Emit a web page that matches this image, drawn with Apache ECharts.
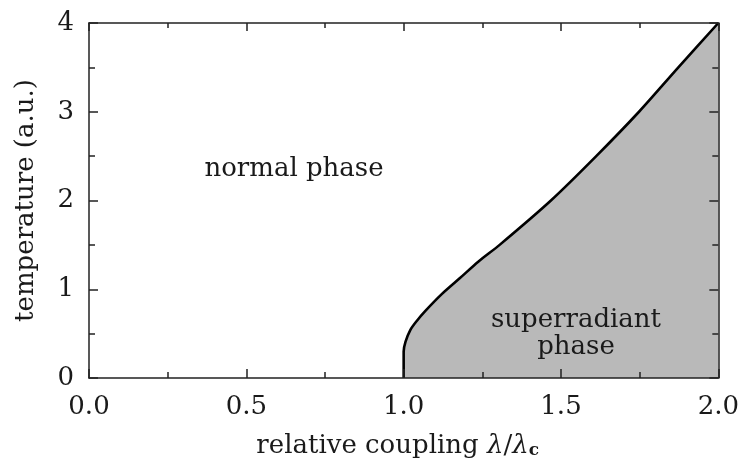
<!DOCTYPE html>
<html>
<head>
<meta charset="utf-8">
<script src="https://cdn.jsdelivr.net/npm/echarts@6/dist/echarts.min.js"></script>
<style>
html,body{margin:0;padding:0;background:#fff;}
#chart{width:742px;height:464px;}
</style>
</head>
<body>
<div id="chart"></div>
<script>
// Phase boundary: relative coupling (x) vs temperature (y)
var couplingValues = [1.0, 1.0, 1.006, 1.021, 1.041, 1.069, 1.121, 1.178, 1.238, 1.305, 1.468, 1.612, 1.748, 1.873, 2.0];
var temperatureValues = [0.0, 0.3, 0.41, 0.54, 0.64, 0.756, 0.945, 1.123, 1.313, 1.5, 2.0, 2.5, 3.0, 3.5, 4.0];
var xTickLabels = ['0.0', '0.5', '1.0', '1.5', '2.0'];
var yTickLabels = ['0', '1', '2', '3', '4'];
var regionLabels = ['normal phase', 'superradiant\nphase'];

var FONT = 'DejaVu Serif';
var TXT = '#1a1a1a';
var FS = 26;

var boundary = couplingValues.map(function (x, i) { return [x, temperatureValues[i]]; });

function baseX(pos, showLabel, tickLen, minorLen) {
  return {
    type: 'value', position: pos, min: 0, max: 2, interval: 0.5, z: 5,
    axisLine: { show: true, onZero: false, lineStyle: { color: '#222', width: 1.5 } },
    axisTick: { show: true, inside: true, length: tickLen, lineStyle: { color: '#222', width: 1.5 } },
    minorTick: { show: true, splitNumber: 2, length: minorLen, lineStyle: { color: '#222', width: 1.5 } },
    splitLine: { show: false },
    axisLabel: {
      show: showLabel, margin: 16, fontFamily: FONT, fontSize: FS, color: TXT,
      formatter: function (v) { return xTickLabels[Math.round(v / 0.5)]; }
    }
  };
}
function baseY(pos, showLabel, tickLen, minorLen) {
  return {
    type: 'value', position: pos, min: 0, max: 4, interval: 1, z: 5,
    axisLine: { show: true, onZero: false, lineStyle: { color: '#222', width: 1.5 } },
    axisTick: { show: true, inside: true, length: tickLen, lineStyle: { color: '#222', width: 1.5 } },
    minorTick: { show: true, splitNumber: 2, length: minorLen, lineStyle: { color: '#222', width: 1.5 } },
    splitLine: { show: false },
    axisLabel: {
      show: showLabel, margin: 15, fontFamily: FONT, fontSize: FS, color: TXT, padding: [7, 0, 0, 0],
      formatter: function (v) { return yTickLabels[Math.round(v)]; }
    }
  };
}

var xBottom = baseX('bottom', true, 9, 6);
xBottom.name = 'relative coupling {it|λ}/{it|λ}{sub|c}';
xBottom.nameLocation = 'middle';
xBottom.nameGap = 55;
xBottom.nameTextStyle = {
  fontFamily: FONT, fontSize: FS, color: TXT, padding: [0, 12, 0, 0],
  rich: {
    it: { fontFamily: FONT, fontSize: FS, fontStyle: 'italic', color: TXT },
    sub: { fontFamily: FONT, fontSize: 17, fontWeight: 'bold', color: TXT, verticalAlign: 'bottom', lineHeight: 16 }
  }
};
var xTop = baseX('top', false, 8, 5);

var yLeft = baseY('left', true, 9, 6);
yLeft.name = 'temperature (a.u.)';
yLeft.nameLocation = 'middle';
yLeft.nameGap = 50;
yLeft.nameTextStyle = { fontFamily: FONT, fontSize: FS, color: TXT };
var yRight = baseY('right', false, 9, 6);

var chart = echarts.init(document.getElementById('chart'), null, { renderer: 'canvas' });
chart.setOption({
  animation: false,
  backgroundColor: '#ffffff',
  grid: { left: 89, right: 23, top: 23, bottom: 81, containLabel: false },
  xAxis: [xBottom, xTop],
  yAxis: [yLeft, yRight],
  series: [{
    type: 'line',
    xAxisIndex: 0, yAxisIndex: 0,
    data: boundary,
    showSymbol: false,
    smooth: 0.3,
    lineStyle: { color: '#000', width: 2.6 },
    areaStyle: { color: '#b9b9b9', opacity: 1, origin: 'start' },
    z: 2
  }],
  graphic: [
    { type: 'text', x: 294, y: 169, z: 10,
      style: { text: regionLabels[0], font: FS + 'px "' + FONT + '"', fill: TXT, align: 'center', verticalAlign: 'middle' } },
    { type: 'text', x: 576, y: 334, z: 10,
      style: { text: regionLabels[1], font: FS + 'px "' + FONT + '"', fill: TXT, align: 'center', verticalAlign: 'middle', lineHeight: 27 } }
  ]
});
</script>
</body>
</html>
